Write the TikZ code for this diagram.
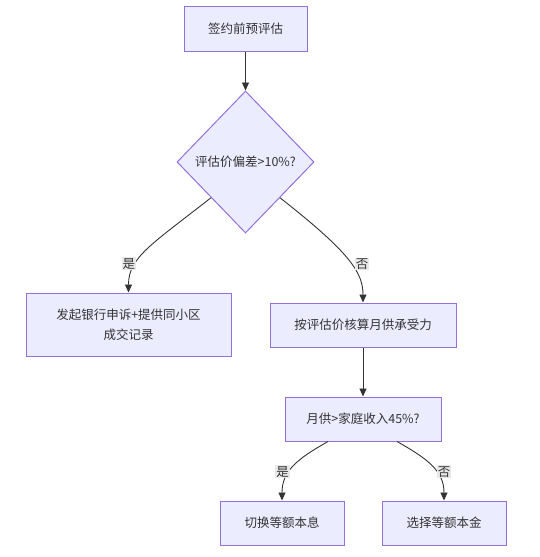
\documentclass[tikz,border=0pt]{standalone}
\usepackage{fontspec}
\setmainfont{Noto Sans CJK SC}
\usetikzlibrary{shapes.geometric,arrows.meta}
\definecolor{boxfill}{HTML}{ECECFF}
\definecolor{boxline}{HTML}{9370DB}
\definecolor{ink}{HTML}{333333}
\definecolor{lblfill}{HTML}{E8E8E8}
\tikzset{
  stepbox/.style={draw=boxline, fill=boxfill, line width=1pt, text=ink, inner sep=0pt, align=center, font=\fontsize{12.5}{20}\selectfont},
  choice/.style={stepbox, diamond, minimum width=137pt, minimum height=142pt},
  link/.style={draw=ink, line width=0.9pt, -{Triangle[length=8pt,width=7pt]}},
  lbl/.style={fill=lblfill, text=ink, inner sep=1pt, font=\fontsize{12.5}{14}\selectfont}
}
\begin{document}
\begin{tikzpicture}[x=1pt, y=-1pt]
\useasboundingbox (0,0) rectangle (539,557);
\node[stepbox, minimum width=123pt, minimum height=45pt] (start) at (245.5,28.5) {签约前预评估};
\node[choice] (gap) at (245.5,162) {评估价偏差>10\%?};
\node[stepbox, minimum width=205pt, minimum height=63pt] (appeal) at (128.5,324.5) {发起银行申诉+提供同小区\\成交记录};
\node[stepbox, minimum width=186pt, minimum height=44pt] (afford) at (363,325) {按评估价核算月供承受力};
\node[stepbox, minimum width=156pt, minimum height=44pt] (ratio) at (363,419) {月供>家庭收入45\%?};
\node[stepbox, minimum width=124pt, minimum height=44pt] (equal) at (282,523) {切换等额本息};
\node[stepbox, minimum width=124pt, minimum height=44pt] (principal) at (444,523) {选择等额本金};
\draw[link] (start) -- (gap);
\draw[link] (gap.south west) .. controls +(-60,47) and +(0,-35) .. node[lbl, pos=0.68, xshift=-7pt] {是} (appeal.north);
\draw[link] (gap.south east) .. controls +(70,55) and +(0,-30) .. node[lbl, pos=0.55, xshift=11pt] {否} (afford.north);
\draw[link] (afford) -- (ratio);
\draw[link] ([xshift=-35pt]ratio.south) .. controls +(-30,17) and +(0,-30) .. node[lbl, pos=0.6, xshift=-7pt] {是} (equal.north);
\draw[link] ([xshift=34pt]ratio.south) .. controls +(30,17) and +(0,-30) .. node[lbl, pos=0.6, xshift=8pt] {否} (principal.north);
\end{tikzpicture}
\end{document}
